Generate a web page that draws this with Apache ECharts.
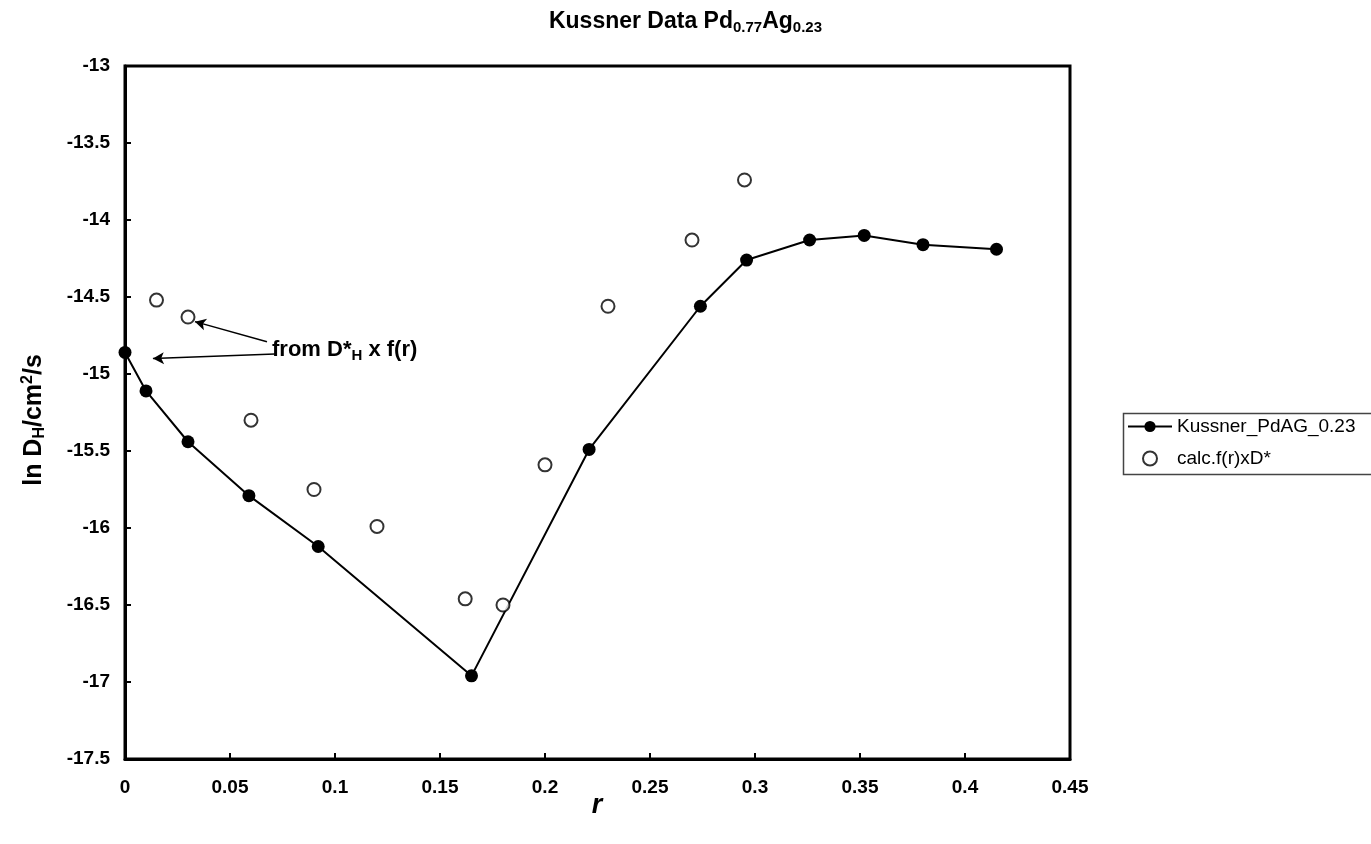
<!DOCTYPE html>
<html><head><meta charset="utf-8">
<script src="https://cdn.jsdelivr.net/npm/echarts@6/dist/echarts.min.js"></script>
<style>html,body{margin:0;padding:0;background:#fff}#c{width:1371px;height:844px}</style>
</head><body><div id="c"></div>
<script>
const kussnerR = [0, 0.010, 0.030, 0.059, 0.092, 0.165, 0.221, 0.274, 0.296, 0.326, 0.352, 0.380, 0.415];
const kussnerLnD = [-14.86, -15.11, -15.44, -15.79, -16.12, -16.96, -15.49, -14.56, -14.26, -14.13, -14.10, -14.16, -14.19];
const calcR = [0.015, 0.030, 0.060, 0.090, 0.120, 0.162, 0.180, 0.200, 0.230, 0.270, 0.295];
const calcLnD = [-14.52, -14.63, -15.30, -15.75, -15.99, -16.46, -16.50, -15.59, -14.56, -14.13, -13.74];
const xTicks = ['0','0.05','0.1','0.15','0.2','0.25','0.3','0.35','0.4','0.45'];
const yTicks = ['-13','-13.5','-14','-14.5','-15','-15.5','-16','-16.5','-17','-17.5'];

const ff = "'Liberation Sans', Arial, sans-serif";
const chart = echarts.init(document.getElementById('c'));
chart.setOption({
  animation: false,
  backgroundColor: '#fff',
  title: {
    text: '{m|Kussner Data Pd}{s|0.77}{m|Ag}{s|0.23}',
    left: 'center', top: 3,
    textStyle: {
      rich: {
        m: {fontFamily: ff, fontWeight: 'bold', fontSize: 23, color: '#000'},
        s: {fontFamily: ff, fontWeight: 'bold', fontSize: 15, color: '#000', padding: [12,0,0,0]}
      }
    }
  },
  grid: {left: 125, top: 66, right: 301, bottom: 85, show: true, borderColor: '#000', borderWidth: 3, backgroundColor: '#fff'},
  legend: {
    left: 1127, top: 417, orient: 'vertical', itemGap: 13, itemWidth: 44, itemHeight: 14, padding: 0,
    textStyle: {fontFamily: ff, fontSize: 19, color: '#000'},
    data: ['Kussner_PdAG_0.23', 'calc.f(r)xD*']
  },
  xAxis: {
    type: 'value', min: 0, max: 0.45, interval: 0.05,
    axisLine: {show: true, lineStyle: {color: '#000', width: 3}},
    axisTick: {show: true, inside: true, length: 6, lineStyle: {color: '#000', width: 2}},
    splitLine: {show: false},
    axisLabel: {margin: 19, fontFamily: ff, fontWeight: 'bold', fontSize: 19, color: '#000',
      formatter: v => xTicks[Math.round(v / 0.05)]}
  },
  yAxis: {
    type: 'value', min: -17.5, max: -13, interval: 0.5,
    axisLine: {show: true, lineStyle: {color: '#000', width: 3}},
    axisTick: {show: true, inside: true, length: 6, lineStyle: {color: '#000', width: 2}},
    splitLine: {show: false},
    axisLabel: {margin: 15, fontFamily: ff, fontWeight: 'bold', fontSize: 19, color: '#000',
      formatter: v => yTicks[Math.round((-13 - v) / 0.5)]}
  },
  graphic: [
    {type: 'rect', left: 1121, top: 411, shape: {width: 300, height: 61}, style: {fill: 'none', stroke: '#444', lineWidth: 1.5}, z: -1},
    {type: 'text', x: 34, y: 420, rotation: Math.PI / 2, style: {
      text: '{m|ln D}{s|H}{m|/cm}{p|2}{m|/s}', align: 'center', verticalAlign: 'middle',
      rich: {
        m: {fontFamily: ff, fontWeight: 'bold', fontSize: 25, fill: '#000'},
        s: {fontFamily: ff, fontWeight: 'bold', fontSize: 16, fill: '#000', padding: [12,0,0,0]},
        p: {fontFamily: ff, fontWeight: 'bold', fontSize: 16, fill: '#000', padding: [0,0,12,0]}
      }}},
    {type: 'text', x: 597, y: 806, style: {text: 'r', align: 'center', verticalAlign: 'middle',
      fontFamily: ff, fontWeight: 'bold', fontStyle: 'italic', fontSize: 27, fill: '#000'}},
    {type: 'text', x: 272, y: 350, style: {
      text: '{m|from D*}{s|H}{m| x f(r)}', verticalAlign: 'middle',
      rich: {
        m: {fontFamily: ff, fontWeight: 'bold', fontSize: 22, fill: '#000'},
        s: {fontFamily: ff, fontWeight: 'bold', fontSize: 15, fill: '#000', padding: [12,0,0,0]}
      }}}
  ],
  series: [
    {
      name: 'Kussner_PdAG_0.23', type: 'line',
      data: kussnerR.map((r, i) => [r, kussnerLnD[i]]),
      symbol: 'circle', symbolSize: 13,
      lineStyle: {color: '#000', width: 2},
      itemStyle: {color: '#000'},
      z: 3,
      markLine: {
        silent: true, symbol: ['none', 'arrow'], symbolSize: [9, 11],
        lineStyle: {color: '#000', width: 1.5, type: 'solid'},
        label: {show: false},
        data: [
          [{coord: [0.0714, -14.87]}, {coord: [0.0133, -14.90]}],
          [{coord: [0.0676, -14.79]}, {coord: [0.0333, -14.66]}]
        ]
      }
    },
    {
      name: 'calc.f(r)xD*', type: 'scatter',
      data: calcR.map((r, i) => [r, calcLnD[i]]),
      symbol: 'circle', symbolSize: 13,
      itemStyle: {color: '#fff', borderColor: '#000', borderWidth: 2},
      z: 4
    }
  ]
});
</script></body></html>
